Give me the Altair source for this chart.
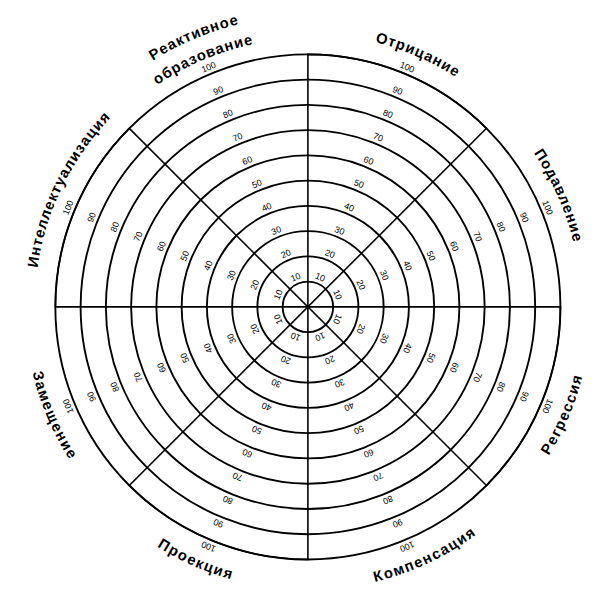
import math
import altair as alt
import pandas as pd

# ---- data ----
categories = ["Отрицание", "Подавление", "Регрессия", "Компенсация",
              "Проекция", "Замещение", "Интеллектуализация",
              "Реактивное образование"]
ring_values = [10, 20, 30, 40, 50, 60, 70, 80, 90, 100]
n_sectors = 8

# ---- layout constants ----
R_PX = 256.0                      # pixel radius of the 100 ring
label_angles = [23.5, 66, 113, 155, 204, 247, 296, 337]   # centre angle of category labels
label_radius_px = 282.0
two_line_radii_px = [300.0, 277.0]
FONT = "Liberation Sans"
CAT_SIZE = 15
EXTRA_SPACING = 1.2

# approximate Arial bold advance widths (per em)
W = {
    'а': .556, 'б': .611, 'в': .573, 'г': .410, 'д': .625, 'е': .556, 'ж': .781,
    'з': .500, 'и': .611, 'й': .611, 'к': .500, 'л': .611, 'м': .719, 'н': .611,
    'о': .611, 'п': .611, 'р': .611, 'с': .556, 'т': .469, 'у': .556, 'ф': .880,
    'х': .556, 'ц': .625, 'ч': .583, 'ш': .865, 'щ': .885, 'ъ': .700, 'ы': .800,
    'ь': .583, 'э': .556, 'ю': .833, 'я': .583,
    'О': .778, 'П': .722, 'Р': .667, 'К': .667, 'З': .611, 'И': .722,
}

def char_rows(text, centre, r_px):
    widths = [W.get(c, .6) * CAT_SIZE + EXTRA_SPACING for c in text]
    total = sum(widths)
    bottom = 90 < centre < 270
    rows = []
    s = 0.0
    for c, w in zip(text, widths):
        off = (s + w / 2 - total / 2) / r_px * 180 / math.pi
        s += w
        phi = centre - off if bottom else centre + off
        rot = (phi - 180) if bottom else phi
        rows.append({"ch": c, "phi": phi % 360, "r": r_px / R_PX * 100,
                     "rot": rot % 360})
    return rows

chars = []
for cat, ang in zip(categories, label_angles):
    parts = cat.split(" ")
    if len(parts) == 2:
        for p, rp in zip(parts, two_line_radii_px):
            chars += char_rows(p, ang, rp)
    else:
        chars += char_rows(cat, ang, label_radius_px)
char_df = pd.DataFrame(chars)

step = 360 / n_sectors
# full circles for every ring
circle_df = pd.DataFrame([{"start": 0, "end": 360, "v": v} for v in ring_values])
# alternate sectors of the outer ring: their edges give each spoke once
spoke_df = pd.DataFrame([{"start": i * step, "end": (i + 1) * step, "v": ring_values[-1]}
                         for i in range(0, n_sectors, 2)])
num_df = pd.DataFrame([{"mid": i * step + step / 2, "v": v, "label": str(v)}
                       for v in ring_values for i in range(n_sectors)])

theta_scale = alt.Scale(domain=[0, 360], range=[0, 2 * math.pi])
rad_scale = alt.Scale(type="linear", domain=[0, 100], range=[0, R_PX], zero=True)

circles = alt.Chart(circle_df).mark_arc(
    fill="white", fillOpacity=0, stroke="black", strokeWidth=1.9
).encode(
    theta=alt.Theta("start:Q", scale=theta_scale, stack=None),
    theta2="end:Q",
    radius=alt.Radius("v:Q", scale=rad_scale),
    radius2="v:Q",
)

spokes = alt.Chart(spoke_df).mark_arc(
    fill="white", fillOpacity=0, stroke="black", strokeWidth=1.6
).encode(
    theta=alt.Theta("start:Q", scale=theta_scale, stack=None),
    theta2="end:Q",
    radius=alt.Radius("v:Q", scale=rad_scale),
    radius2=alt.value(0),
)

nums = alt.Chart(num_df).mark_text(
    font=FONT, fontSize=9, radiusOffset=7, baseline="middle", align="center",
    color="black"
).encode(
    theta=alt.Theta("mid:Q", scale=theta_scale, stack=None),
    radius=alt.Radius("v:Q", scale=rad_scale),
    angle=alt.Angle("mid:Q", scale=None),
    text="label:N",
)

cats = alt.Chart(char_df).mark_text(
    font=FONT, fontSize=CAT_SIZE, fontWeight="bold", baseline="middle",
    align="center", color="black"
).encode(
    theta=alt.Theta("phi:Q", scale=theta_scale, stack=None),
    radius=alt.Radius("r:Q", scale=rad_scale),
    angle=alt.Angle("rot:Q", scale=None),
    text="ch:N",
)

chart = alt.layer(spokes, circles, nums, cats).properties(
    width=576, height=572,
    padding={"left": 16, "top": 13, "right": 0, "bottom": 0},
    autosize="none",
).configure_view(strokeWidth=0)

chart.save("out.html", embed_options={"renderer": "svg", "actions": False})
